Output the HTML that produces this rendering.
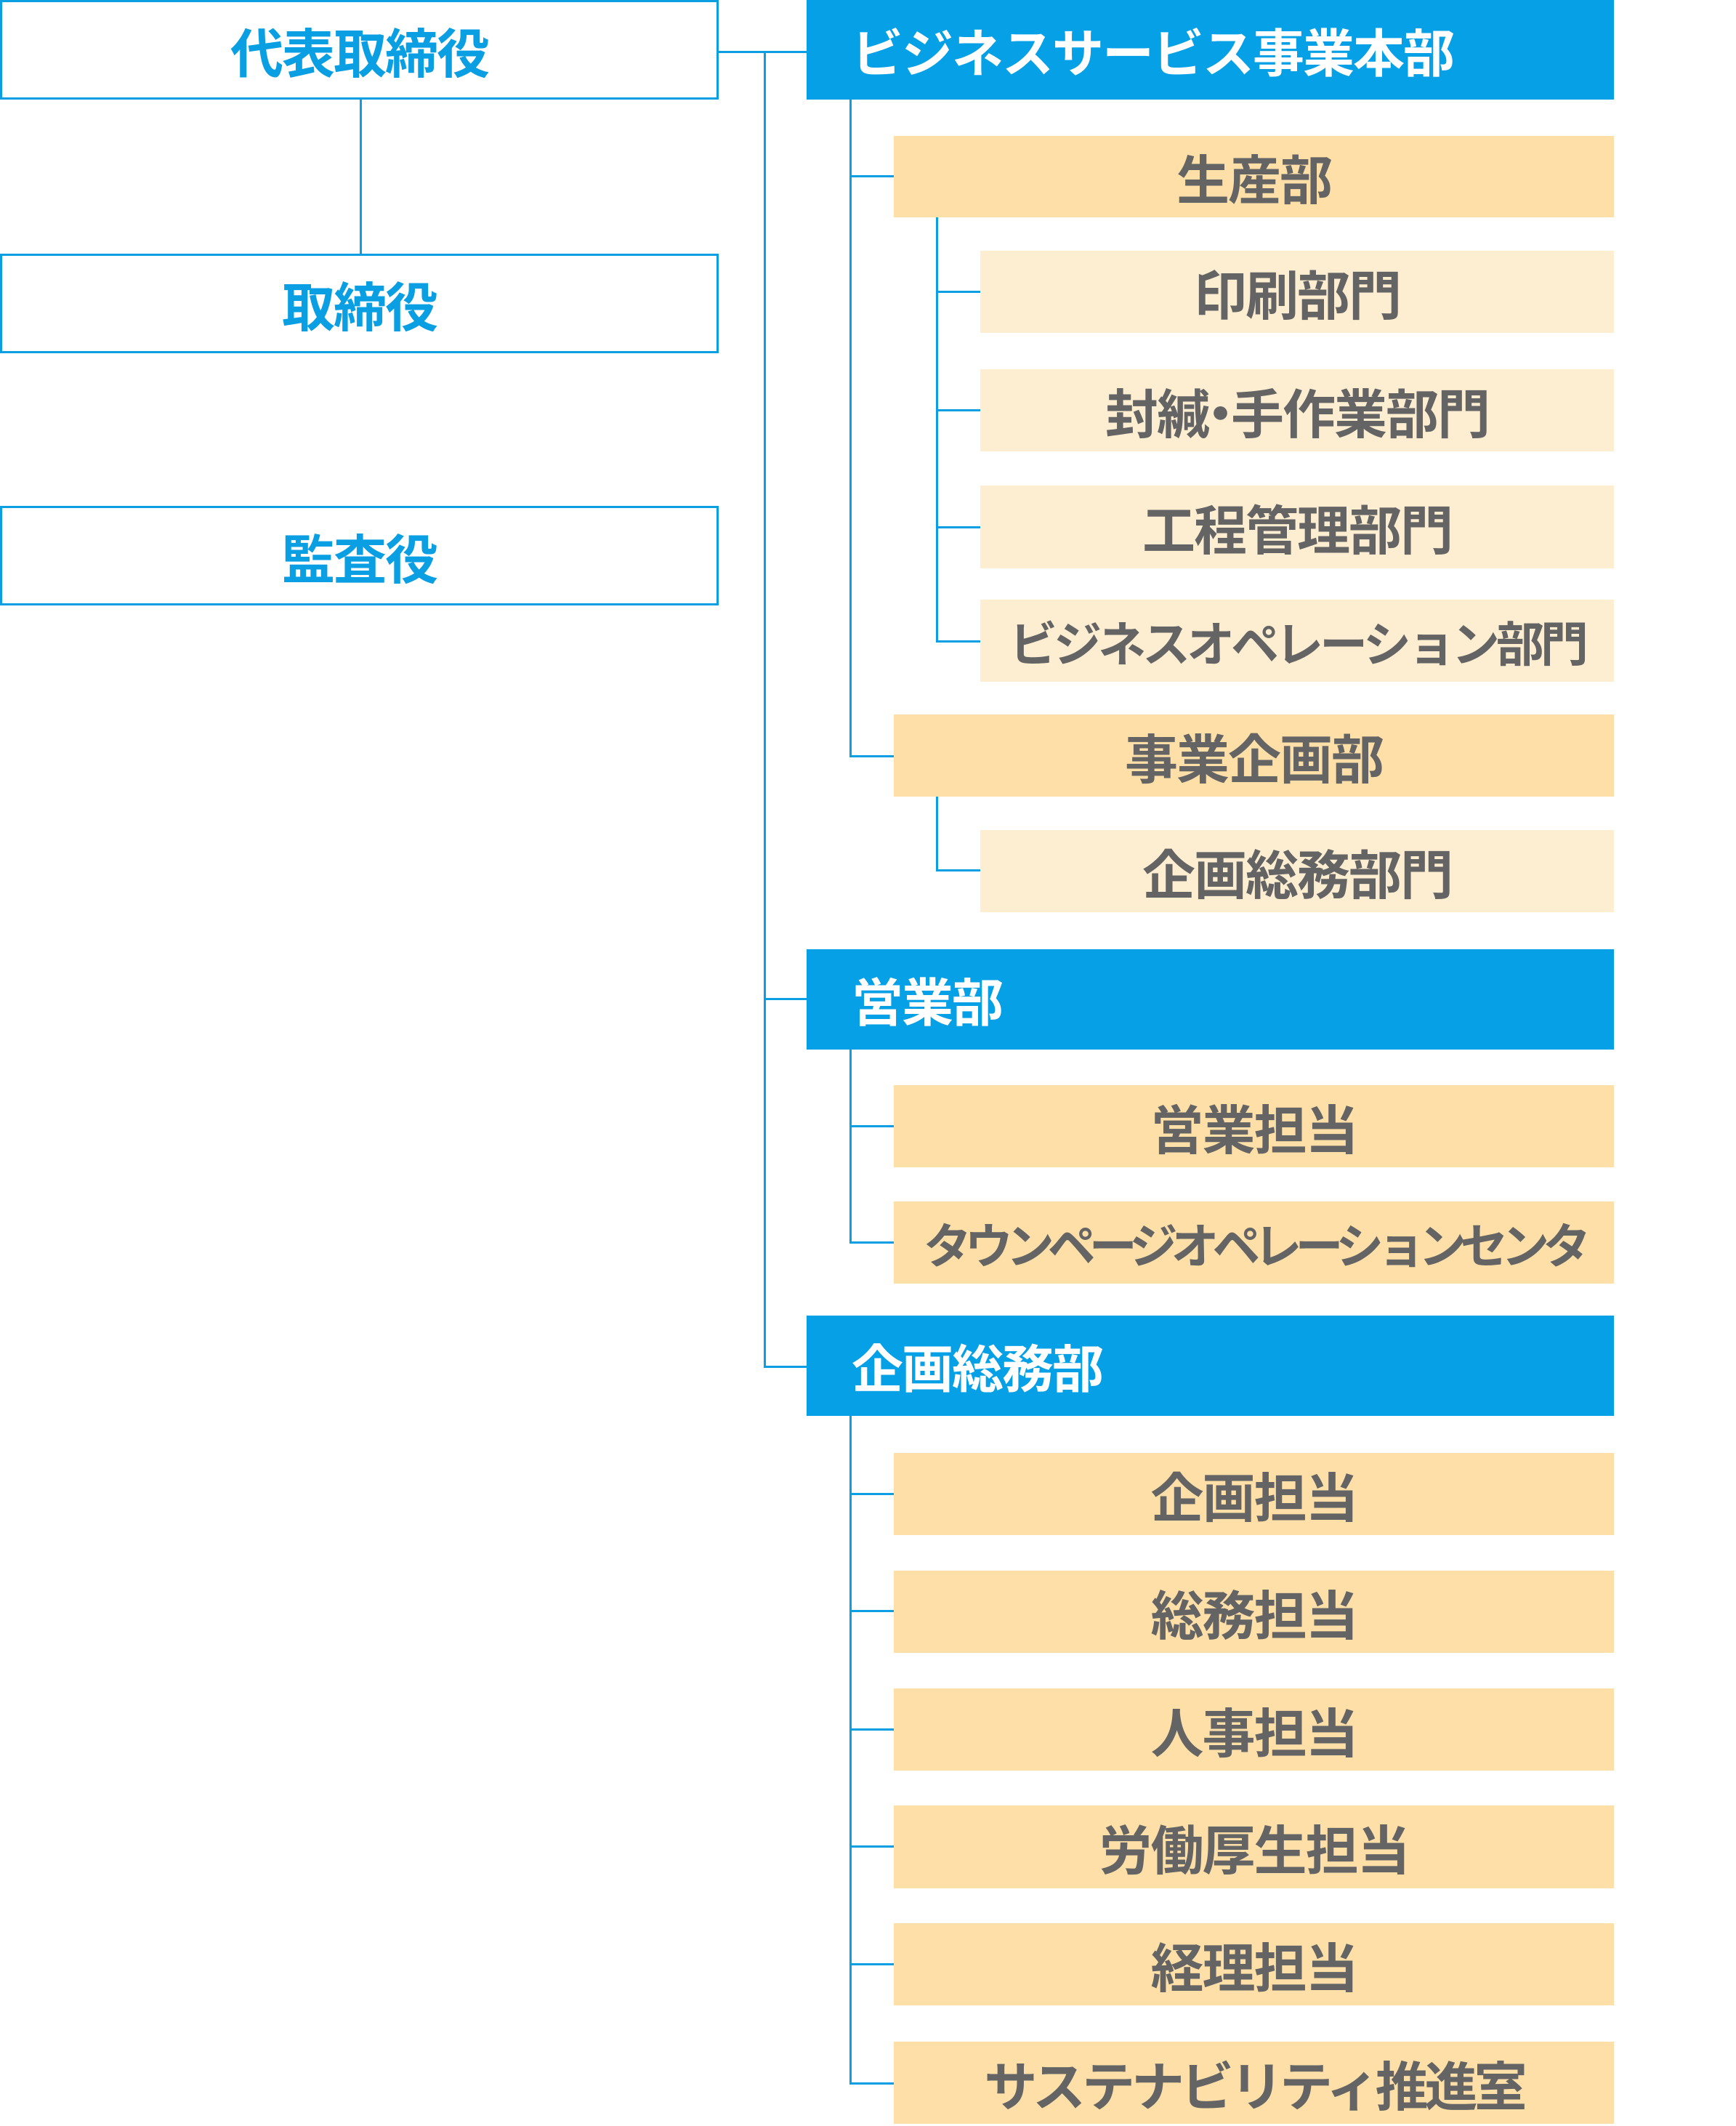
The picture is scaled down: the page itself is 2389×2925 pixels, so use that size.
<!DOCTYPE html>
<html><head><meta charset="utf-8"><style>
html,body{margin:0;padding:0;background:#fff;}
body{width:2389px;height:2925px;position:relative;overflow:hidden;font-family:"Liberation Sans","Noto Sans CJK JP",sans-serif;font-weight:bold;}
.b{position:absolute;box-sizing:border-box;display:flex;align-items:center;font-size:73px;letter-spacing:-2px;white-space:nowrap;}
.w{border:3px solid #0a9fe3;background:#fff;color:#0a9fe3;justify-content:center;left:0;width:989px;}
.h{background:#05a0e6;color:#fff;left:1110px;width:1111px;padding-left:62px;font-size:71px;}
.o{background:#fddfa7;color:#646464;left:1230px;width:991px;justify-content:center;}
.p{background:#fdeed2;color:#646464;left:1349px;width:872px;justify-content:center;}
.l{position:absolute;background:#0a9fe3;}
</style></head><body>
<div class="l" style="left:495px;top:136px;width:3px;height:213px"></div>
<div class="l" style="left:989px;top:70px;width:121px;height:3px"></div>
<div class="l" style="left:1051px;top:70px;width:3px;height:1812px"></div>
<div class="l" style="left:1051px;top:1373px;width:60px;height:3px"></div>
<div class="l" style="left:1051px;top:1879px;width:60px;height:3px"></div>

<div class="l" style="left:1169px;top:136px;width:3px;height:906px"></div>
<div class="l" style="left:1169px;top:241px;width:62px;height:3px"></div>
<div class="l" style="left:1169px;top:1039px;width:62px;height:3px"></div>
<div class="l" style="left:1288px;top:299px;width:3px;height:585px"></div>
<div class="l" style="left:1288px;top:400px;width:62px;height:3px"></div>
<div class="l" style="left:1288px;top:563px;width:62px;height:3px"></div>
<div class="l" style="left:1288px;top:724px;width:62px;height:3px"></div>
<div class="l" style="left:1288px;top:881px;width:62px;height:3px"></div>
<div class="l" style="left:1288px;top:1096px;width:3px;height:103px"></div>
<div class="l" style="left:1288px;top:1196px;width:62px;height:3px"></div>

<div class="l" style="left:1169px;top:1443px;width:3px;height:268px"></div>
<div class="l" style="left:1169px;top:1548px;width:62px;height:3px"></div>
<div class="l" style="left:1169px;top:1708px;width:62px;height:3px"></div>

<div class="l" style="left:1169px;top:1947px;width:3px;height:921px"></div>
<div class="l" style="left:1169px;top:2054px;width:62px;height:3px"></div>
<div class="l" style="left:1169px;top:2215px;width:62px;height:3px"></div>
<div class="l" style="left:1169px;top:2378px;width:62px;height:3px"></div>
<div class="l" style="left:1169px;top:2539px;width:62px;height:3px"></div>
<div class="l" style="left:1169px;top:2701px;width:62px;height:3px"></div>
<div class="l" style="left:1169px;top:2865px;width:62px;height:3px"></div>

<div class="b w" style="top:0;height:137px">代表取締役</div>
<div class="b w" style="top:349px;height:137px">取締役</div>
<div class="b w" style="top:696px;height:137px">監査役</div>

<div class="b h" style="top:0;height:137px">ビジネスサービス事業本部</div>
<div class="b h" style="top:1306px;height:138px">営業部</div>
<div class="b h" style="top:1810px;height:138px">企画総務部</div>

<div class="b o" style="top:187px;height:112px">生産部</div>
<div class="b p" style="top:345px;height:113px">印刷部門</div>
<div class="b p" style="top:508px;height:113px">封緘<span style="margin:0 -20px">・</span>手作業部門</div>
<div class="b p" style="top:668px;height:114px">工程管理部門</div>
<div class="b p" style="top:825px;height:113px;font-size:66px;letter-spacing:-5px">ビジネスオペレーション部門</div>
<div class="b o" style="top:983px;height:113px">事業企画部</div>
<div class="b p" style="top:1142px;height:113px">企画総務部門</div>

<div class="b o" style="top:1493px;height:113px">営業担当</div>
<div class="b o" style="top:1653px;height:113px;font-size:66px;letter-spacing:-9px">タウンページオペレーションセンタ</div>

<div class="b o" style="top:1999px;height:113px">企画担当</div>
<div class="b o" style="top:2161px;height:113px">総務担当</div>
<div class="b o" style="top:2323px;height:113px">人事担当</div>
<div class="b o" style="top:2484px;height:114px">労働厚生担当</div>
<div class="b o" style="top:2646px;height:113px">経理担当</div>
<div class="b o" style="top:2809px;height:113px;letter-spacing:-5px">サステナビリティ推進室</div>
</body></html>
